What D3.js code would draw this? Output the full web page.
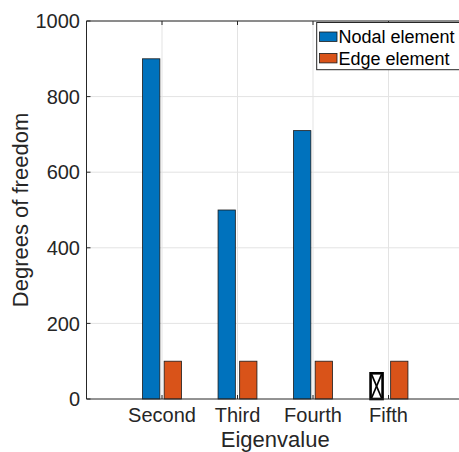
<!DOCTYPE html>
<html>
<head>
<meta charset="utf-8">
<title>Degrees of freedom</title>
<script src="https://cdn.jsdelivr.net/npm/d3@7/dist/d3.min.js"></script>
<style>
  body { margin: 0; background: #fff; }
  svg { display: block; font-family: "Liberation Sans", Arial, Helvetica, sans-serif; }
</style>
</head>
<body>
<div id="chart"></div>
<script>
// data
var categories = ["Second", "Third", "Fourth", "Fifth"];
var categoryPos = [2, 3, 4, 5];
var nodal = [900, 500, 710, null];
var edge = [100, 100, 100, 100];
var nodalMissingMark = [null, null, null, 68];
var yTicks = [0, 200, 400, 600, 800, 1000];
var seriesNames = ["Nodal element", "Edge element"];
var seriesColors = ["#0072BD", "#D95319"];

var width = 459, height = 452;
var axisColor = "#262626", gridColor = "#e3e3e3";

var svg = d3.select("#chart").append("svg")
  .attr("width", width)
  .attr("height", height);

svg.append("rect").attr("width", width).attr("height", height).attr("fill", "#fff");

var x = d3.scaleLinear().domain([1, 6]).range([86.5, 464]);
var y = d3.scaleLinear().domain([0, 1000]).range([399, 21]);

// grouped bar geometry (matlab-like)
var barW = 0.229, barOff = 0.143;
var pxW = x(1 + barW) - x(1);

// grid
var grid = svg.append("g");
grid.selectAll(".hg").data(yTicks.slice(1)).enter().append("line")
  .attr("x1", x(1)).attr("x2", x(6))
  .attr("y1", function(d) { return y(d); }).attr("y2", function(d) { return y(d); })
  .attr("stroke", gridColor).attr("stroke-width", 1);
grid.selectAll(".vg").data(categoryPos).enter().append("line")
  .attr("x1", function(d) { return x(d); }).attr("x2", function(d) { return x(d); })
  .attr("y1", y(0)).attr("y2", y(1000))
  .attr("stroke", gridColor).attr("stroke-width", 1);

// bars
var series = [nodal, edge];
series.forEach(function(vals, s) {
  var off = s == 0 ? -barOff : barOff;
  svg.append("g").selectAll("rect")
    .data(vals.map(function(v, i) { return { v: v, c: categoryPos[i] }; }).filter(function(d) { return d.v != null; }))
    .enter().append("rect")
    .attr("x", function(d) { return x(d.c + off) - pxW / 2; })
    .attr("width", pxW)
    .attr("y", function(d) { return y(d.v); })
    .attr("height", function(d) { return y(0) - y(d.v); })
    .attr("fill", seriesColors[s])
    .attr("stroke", "#1a1a1a")
    .attr("stroke-width", 0.8);
});

// crossed box where the nodal value is missing
nodalMissingMark.forEach(function(v, i) {
  if (v == null) return;
  var cx = x(categoryPos[i] - 0.158), bw = 12;
  var x0 = cx - bw / 2, x1 = cx + bw / 2, y0 = y(v), y1 = y(0);
  var g = svg.append("g").attr("stroke", "#000").attr("fill", "none");
  g.append("rect").attr("x", x0).attr("y", y0).attr("width", bw).attr("height", y1 - y0)
    .attr("fill", "#fff").attr("stroke-width", 2.6);
  g.append("line").attr("x1", x0 + 1).attr("y1", y0 + 1).attr("x2", x1 - 1).attr("y2", y1 - 1).attr("stroke-width", 1.7);
  g.append("line").attr("x1", x1 - 1).attr("y1", y0 + 1).attr("x2", x0 + 1).attr("y2", y1 - 1).attr("stroke-width", 1.7);
});

// axes box
var ax = svg.append("g").attr("stroke", axisColor).attr("stroke-width", 1).attr("fill", "none");
ax.append("line").attr("x1", x(1)).attr("x2", x(6)).attr("y1", y(0)).attr("y2", y(0));
ax.append("line").attr("x1", x(1)).attr("x2", x(6)).attr("y1", y(1000)).attr("y2", y(1000));
ax.append("line").attr("x1", x(1)).attr("x2", x(1)).attr("y1", y(0)).attr("y2", y(1000));

// ticks (inward)
var tl = 4;
ax.selectAll(".yt").data(yTicks).enter().append("line")
  .attr("x1", x(1)).attr("x2", x(1) + tl)
  .attr("y1", function(d) { return y(d); }).attr("y2", function(d) { return y(d); });
ax.selectAll(".xtb").data(categoryPos).enter().append("line")
  .attr("x1", function(d) { return x(d); }).attr("x2", function(d) { return x(d); })
  .attr("y1", y(0)).attr("y2", y(0) - tl);
ax.selectAll(".xtt").data(categoryPos).enter().append("line")
  .attr("x1", function(d) { return x(d); }).attr("x2", function(d) { return x(d); })
  .attr("y1", y(1000)).attr("y2", y(1000) + tl);

// tick labels
svg.append("g").selectAll("text").data(yTicks).enter().append("text")
  .attr("x", 80).attr("y", function(d) { return y(d); })
  .attr("dy", "0.36em")
  .attr("text-anchor", "end")
  .attr("font-size", 20).attr("fill", axisColor)
  .text(function(d) { return d; });
svg.append("g").selectAll("text").data(categories).enter().append("text")
  .attr("x", function(d, i) { return x(categoryPos[i]); }).attr("y", 422)
  .attr("text-anchor", "middle")
  .attr("font-size", 20).attr("fill", axisColor)
  .text(function(d) { return d; });

// axis labels
svg.append("text")
  .attr("x", (x(1) + x(6)) / 2).attr("y", 446.5)
  .attr("text-anchor", "middle").attr("font-size", 22).attr("fill", axisColor)
  .text("Eigenvalue");
svg.append("text")
  .attr("transform", "translate(28," + ((y(0) + y(1000)) / 2) + ") rotate(-90)")
  .attr("text-anchor", "middle").attr("font-size", 22).attr("fill", axisColor)
  .text("Degrees of freedom");

// legend
var lg = svg.append("g");
lg.append("rect").attr("x", 316.7).attr("y", 22.5).attr("width", 150).attr("height", 47.2)
  .attr("fill", "#fff").attr("stroke", axisColor).attr("stroke-width", 1);
var rowY = [36.7, 58.2];
seriesNames.forEach(function(name, i) {
  lg.append("rect").attr("x", 319.5).attr("y", rowY[i] - 4.7).attr("width", 17.5).attr("height", 9.4)
    .attr("fill", seriesColors[i]).attr("stroke", "#1a1a1a").attr("stroke-width", 0.8);
  lg.append("text").attr("x", 338.5).attr("y", rowY[i]).attr("dy", "0.36em")
    .attr("font-size", 18).attr("fill", "#000")
    .text(name);
});
</script>
</body>
</html>
